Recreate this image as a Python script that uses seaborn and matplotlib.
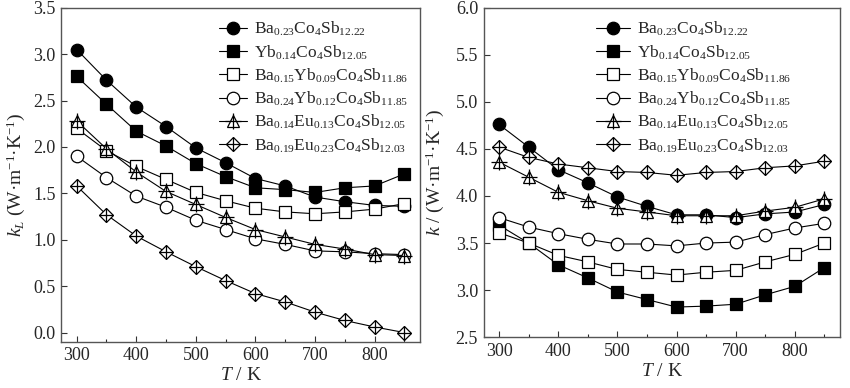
import numpy as np
import pandas as pd
import seaborn as sns
import matplotlib.pyplot as plt
import matplotlib._mathtext as mathtext_internal
from matplotlib.legend_handler import HandlerTuple
from matplotlib.ticker import MultipleLocator

# slightly smaller sub/superscripts, closer to the original typesetting
mathtext_internal.SHRINK_FACTOR = 0.66

T = [300, 350, 400, 450, 500, 550, 600, 650, 700, 750, 800, 850]

labels = [
    r'Ba$_{0.23}$Co$_4$Sb$_{12.22}$',
    r'Yb$_{0.14}$Co$_4$Sb$_{12.05}$',
    r'Ba$_{0.15}$Yb$_{0.09}$Co$_4$Sb$_{11.86}$',
    r'Ba$_{0.24}$Yb$_{0.12}$Co$_4$Sb$_{11.85}$',
    r'Ba$_{0.14}$Eu$_{0.13}$Co$_4$Sb$_{12.05}$',
    r'Ba$_{0.19}$Eu$_{0.23}$Co$_4$Sb$_{12.03}$',
]

# lattice thermal conductivity (left)
kL_ba = [3.05, 2.72, 2.43, 2.22, 1.99, 1.83, 1.66, 1.58, 1.46, 1.41, 1.37, 1.36]
kL_yb = [2.76, 2.46, 2.17, 2.01, 1.82, 1.68, 1.56, 1.54, 1.51, 1.56, 1.58, 1.71]
kL_bayb1 = [2.20, 1.96, 1.79, 1.65, 1.51, 1.42, 1.34, 1.30, 1.28, 1.30, 1.33, 1.39]
kL_bayb2 = [1.90, 1.67, 1.47, 1.35, 1.21, 1.11, 1.01, 0.95, 0.88, 0.87, 0.85, 0.84]
kL_baeu1 = [2.28, 1.98, 1.73, 1.52, 1.38, 1.24, 1.11, 1.03, 0.95, 0.90, 0.84, 0.83]
kL_baeu2 = [1.58, 1.27, 1.04, 0.87, 0.71, 0.56, 0.42, 0.33, 0.22, 0.13, 0.06, 0.00]

# total thermal conductivity (right)
k_ba = [4.76, 4.52, 4.28, 4.14, 3.99, 3.89, 3.80, 3.80, 3.77, 3.81, 3.83, 3.91]
k_yb = [3.69, 3.50, 3.27, 3.13, 2.98, 2.90, 2.82, 2.83, 2.85, 2.95, 3.04, 3.24]
k_bayb1 = [3.61, 3.50, 3.37, 3.30, 3.22, 3.19, 3.16, 3.19, 3.21, 3.30, 3.38, 3.50]
k_bayb2 = [3.77, 3.67, 3.60, 3.54, 3.49, 3.49, 3.47, 3.50, 3.51, 3.59, 3.66, 3.71]
k_baeu1 = [4.36, 4.20, 4.04, 3.95, 3.87, 3.83, 3.79, 3.79, 3.79, 3.84, 3.88, 3.97]
k_baeu2 = [4.52, 4.41, 4.34, 4.30, 4.26, 4.25, 4.22, 4.25, 4.26, 4.30, 4.32, 4.37]

left_series = [kL_ba, kL_yb, kL_bayb1, kL_bayb2, kL_baeu1, kL_baeu2]
right_series = [k_ba, k_yb, k_bayb1, k_bayb2, k_baeu1, k_baeu2]

# marker, size, face colour, size of '+' overlay (0 = none)
styles = [('o', 9, 'black', 0), ('s', 8, 'black', 0), ('s', 8, 'white', 0),
          ('o', 9, 'white', 0), ('^', 9, 'white', 12), ('D', 7.5, 'white', 10)]

sns.set_style('ticks')
plt.rcParams['font.family'] = ['Liberation Serif', 'DejaVu Serif']
plt.rcParams['mathtext.fontset'] = 'custom'
plt.rcParams['mathtext.rm'] = 'Liberation Serif'
plt.rcParams['mathtext.it'] = 'Liberation Serif:italic'
plt.rcParams['mathtext.default'] = 'regular'
plt.rcParams['xtick.direction'] = 'in'
plt.rcParams['ytick.direction'] = 'in'

fig = plt.figure(figsize=(8.5, 3.88), dpi=100)
axL = fig.add_axes([0.072, 0.119, 0.422, 0.861])
axR = fig.add_axes([0.569, 0.131, 0.419, 0.849])


def draw(ax, series, loc, anchor, hlen):
    handles = []
    for vals, lab, (m, ms, fc, plus) in zip(series, labels, styles):
        df = pd.DataFrame({'T': T, 'k': vals})
        sns.lineplot(data=df, x='T', y='k', ax=ax, color='black', lw=0.8,
                     marker=m, ms=ms, mfc=fc, mec='black', mew=0.9, legend=False)
        h = ax.lines[-1]
        if plus:
            sns.lineplot(data=df, x='T', y='k', ax=ax, color='black', lw=0,
                         marker='+', ms=plus, mec='black', mew=0.9, legend=False)
            handles.append((h, ax.lines[-1]))
        else:
            handles.append(h)
    ax.legend(handles, labels, handler_map={tuple: HandlerTuple(ndivide=1, pad=0)},
              frameon=False, fontsize=12.5, loc=loc, bbox_to_anchor=anchor,
              handlelength=hlen, handletextpad=0.4, labelspacing=0.28,
              borderaxespad=0.2, borderpad=0.5)
    ax.set_xlim(274, 876)
    ax.xaxis.set_major_locator(MultipleLocator(100))
    ax.xaxis.set_minor_locator(MultipleLocator(50))
    ax.yaxis.set_major_locator(MultipleLocator(0.5))
    ax.tick_params(labelsize=13, length=4.5, width=0.8, pad=4, color='#333333')
    ax.tick_params(which='minor', length=2.5, width=0.8)
    ax.set_xlabel(r'$\mathit{T}$ / K', fontsize=14, labelpad=2)
    for s in ax.spines.values():
        s.set_color('#555555')
        s.set_linewidth(1.0)


draw(axL, left_series, 'upper right', (1.0, 1.0), 1.6)
axL.set_ylim(-0.1, 3.5)
axL.yaxis.set_major_formatter(plt.FormatStrFormatter('%.1f'))
axL.set_ylabel(r'$\mathit{k_L}$ (W·m$^{-1}$·K$^{-1}$)', fontsize=14, labelpad=4)

draw(axR, right_series, 'upper left', (0.28, 1.0), 2.0)
axR.set_ylim(2.5, 6.0)
axR.yaxis.set_major_formatter(plt.FormatStrFormatter('%.1f'))
axR.set_ylabel(r'$\mathit{k}$ / (W·m$^{-1}$·K$^{-1}$)', fontsize=14, labelpad=6)

fig.savefig('out.png', dpi=100)
